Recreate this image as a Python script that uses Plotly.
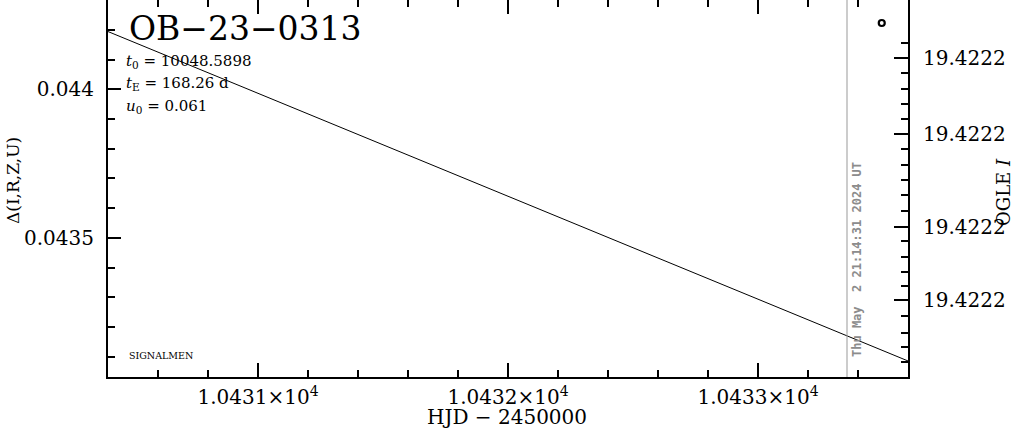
import plotly.graph_objects as go

# ---- data ----
model_hjd = [10430.4, 10431.0, 10432.0, 10433.0, 10433.6]
model_delta = [0.0441947, 0.0439869, 0.0436402, 0.0432935, 0.0430857]

x_tick_vals = [10431, 10432, 10433]
x_tick_text = ["1.0431×10<sup>4</sup>", "1.0432×10<sup>4</sup>", "1.0433×10<sup>4</sup>"]
y_tick_vals = [0.0435, 0.044]
y_tick_text = ["0.0435", "0.044"]

# right (OGLE I) axis, in axis units measured from the top of the frame
ogle_tick_vals = [58.3, 134.3, 226.7, 300.0]
ogle_tick_text = ["19.4222", "19.4222", "19.4222", "19.4222"]
ogle_minor_vals = [43.3, 73.3, 89.3, 104.3, 119.0, 149.3, 165.0, 180.0, 195.0,
                   210.7, 240.7, 256.7, 271.7, 286.0, 316.0, 332.7, 346.7, 361.7]
ogle_hjd = [10433.495]
ogle_mag = [23.0]

now_hjd = 10433.356
now_text = "Thu May  2 21:14:31 2024 UT"
event_name = "OB−23−0313"
params = ["<i>t</i><sub>0</sub> = 10048.5898",
          "<i>t</i><sub>E</sub> = 168.26 d",
          "<i>u</i><sub>0</sub> = 0.061"]

x_range = [10430.4, 10433.6]
y_range = [0.0430317, 0.0443009]
ogle_range = [376.7, 0.0]

W, H = 1011, 434
ML, MR, MT, MB = 108, 103, 0, 57
PW, PH = W - ML - MR, H - MT - MB


def px(x):
    return (x - ML) / PW


def py(y):
    return (H - MB - y) / PH


SERIF = "DejaVu Serif"

fig = go.Figure()
fig.add_trace(go.Scatter(x=model_hjd, y=model_delta, mode="lines",
                         line=dict(color="black", width=1), hoverinfo="skip",
                         showlegend=False))
fig.add_trace(go.Scatter(x=ogle_hjd, y=ogle_mag, mode="markers", xaxis="x", yaxis="y2",
                         marker=dict(symbol="circle-open", size=6, color="black",
                                     line=dict(width=2.2, color="black")),
                         hoverinfo="skip", showlegend=False))
fig.add_trace(go.Scatter(x=model_hjd[:1], y=model_delta[:1], mode="markers", xaxis="x2",
                         yaxis="y", marker=dict(opacity=0), hoverinfo="skip",
                         showlegend=False))

fig.add_shape(type="line", xref="x", yref="paper", x0=now_hjd, x1=now_hjd, y0=0, y1=1,
              line=dict(color="#999999", width=1))

fig.update_layout(
    width=W, height=H,
    margin=dict(l=ML, r=MR, t=MT, b=MB, autoexpand=False),
    paper_bgcolor="white", plot_bgcolor="white",
    font=dict(family=SERIF, color="black", size=20),
    xaxis=dict(range=x_range, showgrid=False, zeroline=False, showline=True,
               automargin=False,
               linecolor="black", linewidth=2, ticks="inside", ticklen=14,
               tickwidth=2, tickcolor="black", tickmode="array",
               tickvals=x_tick_vals, ticktext=x_tick_text,
               tickfont=dict(family=SERIF, size=20), ticklabelstandoff=1,
               minor=dict(ticks="inside", ticklen=7, tickwidth=2, tickcolor="black",
                          dtick=0.2, tick0=10431, showgrid=False)),
    xaxis2=dict(range=x_range, overlaying="x", side="top", showgrid=False,
                automargin=False,
                zeroline=False, showline=False, ticks="inside", ticklen=14,
                tickwidth=2, tickcolor="black", tickmode="array",
                tickvals=x_tick_vals, showticklabels=False,
                minor=dict(ticks="inside", ticklen=7, tickwidth=2, tickcolor="black",
                           dtick=0.2, tick0=10431, showgrid=False)),
    yaxis=dict(range=y_range, showgrid=False, zeroline=False, showline=True,
               automargin=False,
               linecolor="black", linewidth=2, ticks="inside", ticklen=13,
               tickwidth=2, tickcolor="black", tickmode="array",
               tickvals=y_tick_vals, ticktext=y_tick_text,
               tickfont=dict(family=SERIF, size=20), ticklabelstandoff=8,
               minor=dict(ticks="inside", ticklen=7, tickwidth=2, tickcolor="black",
                          dtick=0.0001, tick0=0.044, showgrid=False)),
    yaxis2=dict(range=ogle_range, overlaying="y", side="right", showgrid=False,
                automargin=False,
                zeroline=False, showline=True, linecolor="black", linewidth=2,
                ticks="inside", ticklen=14, tickwidth=2, tickcolor="black",
                tickmode="array", tickvals=ogle_tick_vals, ticktext=ogle_tick_text,
                tickfont=dict(family=SERIF, size=20), ticklabelstandoff=9,
                minor=dict(ticks="inside", ticklen=7, tickwidth=2, tickcolor="black",
                           tickmode="array", tickvals=ogle_minor_vals, showgrid=False)),
)

ann = []
ann.append(dict(text=event_name, x=px(127), y=py(29), xanchor="left", yanchor="middle",
                font=dict(family=SERIF, size=33, color="black")))
for i, t in enumerate(params):
    ann.append(dict(text=t, x=px(124), y=py(61 + 22.5 * i), xanchor="left",
                    yanchor="middle", font=dict(family=SERIF, size=15, color="black")))
ann.append(dict(text="SIGNALMEN", x=px(127), y=py(355), xanchor="left", yanchor="middle",
                font=dict(family=SERIF, size=9.5, color="black")))
ann.append(dict(text=now_text, x=px(857), y=py(260), xanchor="center", yanchor="middle",
                textangle=-90,
                font=dict(family="DejaVu Sans Mono", size=12, color="#8c8c8c",
                          weight="bold")))
ann.append(dict(text="HJD − 2450000", x=px(507), y=py(417), xanchor="center",
                yanchor="middle", font=dict(family=SERIF, size=20, color="black")))
ann.append(dict(text="Δ(I,R,Z,U)", x=px(13), y=py(181), xanchor="center",
                yanchor="middle", textangle=-90,
                font=dict(family=SERIF, size=17, color="black")))
ann.append(dict(text="OGLE <i>I</i>", x=px(1003), y=py(192), xanchor="center",
                yanchor="middle", textangle=-90,
                font=dict(family=SERIF, size=18, color="black")))
for a in ann:
    a.update(xref="paper", yref="paper", showarrow=False)
fig.update_layout(annotations=ann)

fig.write_html("out.html",
               config={"displayModeBar": False},
               post_script="document.body.style.margin='0';"
                           "document.body.style.overflow='hidden';")
